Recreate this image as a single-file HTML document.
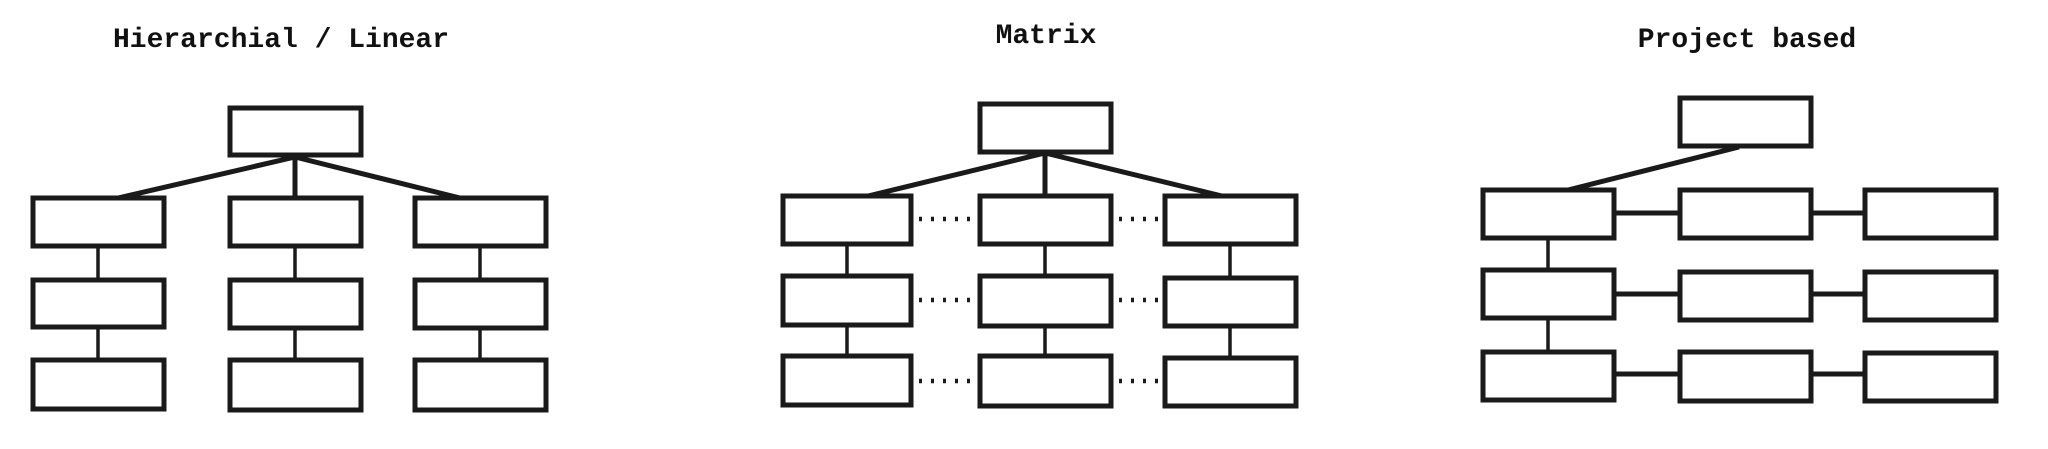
<!DOCTYPE html>
<html><head><meta charset="utf-8"><style>
html,body{margin:0;padding:0;background:#fff;}
svg{display:block}
text{font-family:"Liberation Mono",monospace;font-weight:bold;font-size:28px;fill:#111;}
</style></head><body>
<svg width="2048" height="449" viewBox="0 0 2048 449" xmlns="http://www.w3.org/2000/svg">
<g fill="none" stroke="#1a1a1a" stroke-width="5">
<!-- Hierarchical -->
<rect x="230" y="108" width="131" height="47"/>
<rect x="33" y="198" width="131" height="48"/>
<rect x="230" y="198" width="131" height="48"/>
<rect x="415" y="198" width="131" height="48"/>
<rect x="33" y="280" width="131" height="47"/>
<rect x="230" y="280" width="131" height="48"/>
<rect x="415" y="280" width="131" height="48"/>
<rect x="33" y="360" width="131" height="49"/>
<rect x="230" y="360" width="131" height="50"/>
<rect x="415" y="360" width="131" height="50"/>
<path d="M295 157 L118 198 M295 157 L460 198 M295 157 V198"/>
<path d="M98 246 V280 M98 327 V360 M295 246 V280 M295 328 V360 M480 246 V280 M480 328 V360" stroke-width="3.5"/>
<g transform="translate(-5,0)">
<!-- Matrix -->
<rect x="985" y="104" width="131" height="48"/>
<rect x="788" y="196" width="128" height="48"/>
<rect x="985" y="196" width="131" height="48"/>
<rect x="1170" y="196" width="131" height="48"/>
<rect x="788" y="276" width="128" height="49"/>
<rect x="985" y="276" width="131" height="50"/>
<rect x="1170" y="278" width="131" height="48"/>
<rect x="788" y="356" width="128" height="49"/>
<rect x="985" y="356" width="131" height="50"/>
<rect x="1170" y="358" width="131" height="48"/>
<path d="M1050 153 L873 196 M1050 153 L1227 196 M1050 153 V196"/>
<path d="M852 244 V276 M852 325 V356 M1050 244 V276 M1050 326 V356 M1235 244 V278 M1235 326 V358" stroke-width="3.5"/>
<path d="M924 219 H982 M1124 219 H1168 M924 300 H982 M1124 300 H1168 M924 381 H982 M1124 381 H1168" stroke-width="4.5" stroke-dasharray="3 9"/>
</g>
<g transform="translate(-7,0)">
<!-- Project -->
<rect x="1687" y="98" width="131" height="48"/>
<rect x="1490" y="190" width="131" height="48"/>
<rect x="1687" y="190" width="131" height="48"/>
<rect x="1872" y="190" width="131" height="48"/>
<rect x="1490" y="270" width="131" height="48"/>
<rect x="1687" y="272" width="131" height="48"/>
<rect x="1872" y="272" width="131" height="48"/>
<rect x="1490" y="352" width="131" height="48"/>
<rect x="1687" y="352" width="131" height="49"/>
<rect x="1872" y="353" width="131" height="48"/>
<path d="M1746 147 L1575 190"/>
<path d="M1555 238 V270 M1555 318 V352" stroke-width="3.5"/>
<path d="M1621 213 H1687 M1818 213 H1872 M1621 294 H1687 M1818 294 H1872 M1621 374 H1687 M1818 374 H1872" stroke-width="5"/>
</g>
</g>
<text x="281" y="47" text-anchor="middle">Hierarchial / Linear</text>
<text x="1046" y="43" text-anchor="middle">Matrix</text>
<text x="1747" y="47" text-anchor="middle">Project based</text>
</svg>
</body></html>
